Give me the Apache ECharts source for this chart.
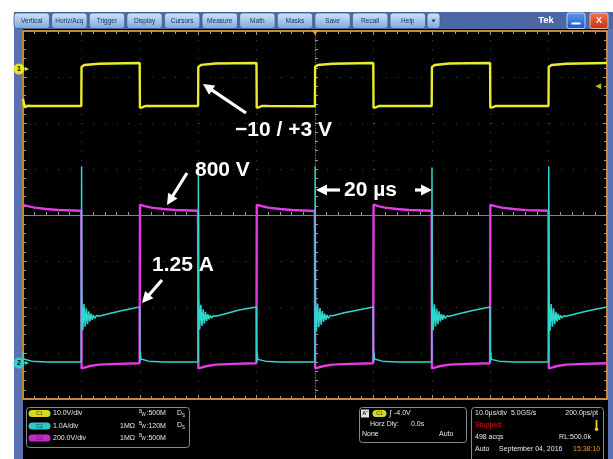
<!DOCTYPE html>
<html>
<head>
<meta charset="utf-8">
<script src="https://cdn.jsdelivr.net/npm/echarts@6/dist/echarts.min.js"></script>
<style>
html, body { margin: 0; padding: 0; background: #ffffff; }
#scope { width: 613px; height: 459px; }
</style>
</head>
<body>
<div id="scope"></div>
<script>
// ---- Captured waveforms (time in µs, 10 µs/div, 100 µs record) ----

// C1: gate drive, volts
const ch1T = [0, 0.3, 0.8, 1.5, 9.98,
  10.02, 10.5, 13, 19.98,
  20.02, 20.4, 21, 22, 29.98,
  30.02, 30.5, 33, 39.98,
  40.02, 40.4, 41, 42, 49.98,
  50.02, 50.5, 53, 59.98,
  60.02, 60.4, 61, 62, 69.98,
  70.02, 70.5, 73, 79.98,
  80.02, 80.4, 81, 82, 89.98,
  90.02, 90.5, 93, 100];
const ch1V = [-7.8, -10.4, -9.9, -10, -10,
  1.8, 2.4, 2.8, 3.0,
  -10.5, -10.4, -9.95, -10, -10,
  1.8, 2.45, 2.85, 3.0,
  -10.5, -10.35, -9.95, -10, -10.05,
  1.85, 2.4, 2.8, 3.0,
  -10.5, -10.4, -9.95, -10, -10,
  1.8, 2.4, 2.85, 3.0,
  -10.45, -10.4, -9.95, -10, -10,
  1.8, 2.4, 2.8, 3.0];

// C2: drain current, amps
const ch2T = [0, 0.1, 1.5, 4, 9.98,
  10.03, 10.08, 10.25, 10.45, 10.65, 10.85, 11.05, 11.25, 11.45, 11.65, 11.85, 12.05, 12.3, 12.6, 13, 15, 17, 19.97,
  20.02, 20.06, 20.2, 21.5, 24, 29.98,
  30.03, 30.08, 30.25, 30.45, 30.65, 30.85, 31.05, 31.25, 31.45, 31.65, 31.85, 32.05, 32.3, 32.6, 33, 35, 37, 39.97,
  40.02, 40.06, 40.2, 41.5, 44, 49.98,
  50.03, 50.08, 50.25, 50.45, 50.65, 50.85, 51.05, 51.25, 51.45, 51.65, 51.85, 52.05, 52.3, 52.6, 53, 55, 57, 59.97,
  60.02, 60.06, 60.2, 61.5, 64, 69.98,
  70.03, 70.08, 70.25, 70.45, 70.65, 70.85, 71.05, 71.25, 71.45, 71.65, 71.85, 72.05, 72.3, 72.6, 73, 75, 77, 79.97,
  80.02, 80.06, 80.2, 81.5, 84, 89.98,
  90.03, 90.08, 90.25, 90.45, 90.65, 90.85, 91.05, 91.25, 91.45, 91.65, 91.85, 92.05, 92.3, 92.6, 93, 95, 97, 100];
const ch2A = [0.25, 0.07, 0.02, 0, 0,
  4.45, 1.45, 0.72, 1.32, 0.80, 1.22, 0.86, 1.15, 0.92, 1.10, 0.96, 1.07, 0.99, 1.06, 1.04, 1.11, 1.17, 1.25,
  0, 0.24, 0.07, 0.02, 0, 0,
  4.40, 1.48, 0.74, 1.30, 0.82, 1.20, 0.87, 1.14, 0.93, 1.09, 0.97, 1.06, 1.00, 1.05, 1.04, 1.11, 1.18, 1.25,
  0, 0.23, 0.06, 0.02, 0, 0,
  4.45, 1.46, 0.70, 1.33, 0.79, 1.23, 0.85, 1.16, 0.91, 1.10, 0.95, 1.07, 0.99, 1.06, 1.05, 1.12, 1.17, 1.25,
  0, 0.25, 0.07, 0.02, 0, 0,
  4.42, 1.44, 0.73, 1.31, 0.81, 1.21, 0.86, 1.15, 0.92, 1.09, 0.96, 1.07, 0.99, 1.05, 1.04, 1.11, 1.17, 1.25,
  0, 0.24, 0.06, 0.02, 0, 0,
  4.45, 1.47, 0.71, 1.32, 0.80, 1.22, 0.86, 1.14, 0.92, 1.10, 0.96, 1.06, 1.00, 1.05, 1.04, 1.11, 1.17, 1.25];

// C3: drain voltage, volts
const ch3T = [0, 1, 2, 4, 6, 9.97,
  10.03, 10.5, 11.5, 13, 16, 19.97,
  20.03, 21, 22, 24, 26, 29.97,
  30.03, 30.5, 31.5, 33, 36, 39.97,
  40.03, 41, 42, 44, 46, 49.97,
  50.03, 50.5, 51.5, 53, 56, 59.97,
  60.03, 61, 62, 64, 66, 69.97,
  70.03, 70.5, 71.5, 73, 76, 79.97,
  80.03, 81, 82, 84, 86, 89.97,
  90.03, 90.5, 91.5, 93, 96, 100];
const ch3V = [816, 808, 802, 795, 790, 786,
  -12, -8, 0, 7, 11, 14,
  817, 808, 802, 795, 790, 786,
  -12, -8, 0, 7, 11, 14,
  816, 809, 802, 795, 790, 785,
  -12, -8, 0, 7, 11, 14,
  817, 808, 802, 795, 790, 786,
  -12, -8, 0, 7, 11, 14,
  816, 808, 802, 795, 789, 786,
  -12, -8, 0, 7, 11, 14];

// Trigger level on C1
const triggerLevel = -4.0;

// Channel readouts
const chLabels = ['C1', 'C2', 'C3'];
const chScales = ['10.0V/div', '1.0A/div', '200.0V/div'];
const chTerm = ['', '1M\u03A9', '1M\u03A9'];
const chBw = ['500M', '120M', '500M'];
const menuItems = ['Vertical', 'Horiz/Acq', 'Trigger', 'Display', 'Cursors', 'Measure', 'Math', 'Masks', 'Save', 'Recall', 'Help'];

const zip = (t, v) => t.map((x, i) => [x, v[i]]);

const YEL = '#ecec2c', CYN = '#2fd6cc', MAG = '#e23ce2';
const BORDER = '#c4873a', TICK = '#9a9a9a', DOTS = '#4e4e4e';
const FONT = '"Liberation Sans", Arial, sans-serif';

const chart = echarts.init(document.getElementById('scope'), null, { renderer: 'canvas', width: 613, height: 459 });

// ---------- screen furniture ----------
const g = [];
g.push({ type: 'rect', shape: { x: 14, y: 12, width: 599, height: 447 }, style: { fill: '#5a72b4' }, z: -20, silent: true });
g.push({ type: 'rect', shape: { x: 23, y: 29, width: 585, height: 430 }, style: { fill: '#000' }, z: -19, silent: true });
g.push({ type: 'rect', shape: { x: 14, y: 12, width: 599, height: 17 }, style: { fill: '#4d67a4' }, z: -18, silent: true });

const btnGrad = { type: 'linear', x: 0, y: 0, x2: 0, y2: 1, colorStops: [{ offset: 0, color: '#d2e4f8' }, { offset: 1, color: '#7ea6d8' }] };
menuItems.forEach((m, i) => {
  const x = 14 + i * 37.6;
  g.push({ type: 'rect', shape: { x: x, y: 13, width: 35.5, height: 15.5, r: 3 }, style: { fill: btnGrad, stroke: '#3d5b93', lineWidth: 0.8 }, z: 1 });
  g.push({ type: 'text', x: x + 17.75, y: 20.8, style: { text: m, fill: '#1c3468', font: '6.5px ' + FONT, align: 'center', verticalAlign: 'middle' }, z: 2 });
});
g.push({ type: 'rect', shape: { x: 427, y: 13, width: 13, height: 15.5, r: 3 }, style: { fill: btnGrad, stroke: '#3d5b93', lineWidth: 0.8 }, z: 1 });
g.push({ type: 'polygon', shape: { points: [[431.5, 19.5], [435.5, 19.5], [433.5, 22.5]] }, style: { fill: '#1c3468' }, z: 2 });
g.push({ type: 'text', x: 546, y: 20.5, style: { text: 'Tek', fill: '#ffffff', font: 'bold 9.5px ' + FONT, align: 'center', verticalAlign: 'middle' }, z: 2 });
g.push({ type: 'rect', shape: { x: 567, y: 13, width: 18, height: 15.5, r: 2 }, style: { fill: { type: 'linear', x: 0, y: 0, x2: 0, y2: 1, colorStops: [{ offset: 0, color: '#5a9af0' }, { offset: 1, color: '#1f56c0' }] }, stroke: '#dfe8f8', lineWidth: 0.8 }, z: 1 });
g.push({ type: 'rect', shape: { x: 571.5, y: 22.5, width: 9, height: 2 }, style: { fill: '#ffffff' }, z: 2 });
g.push({ type: 'rect', shape: { x: 590, y: 13, width: 18, height: 15.5, r: 2 }, style: { fill: { type: 'linear', x: 0, y: 0, x2: 0, y2: 1, colorStops: [{ offset: 0, color: '#f4784a' }, { offset: 1, color: '#c82a12' }] }, stroke: '#f0d8d0', lineWidth: 0.8 }, z: 1 });
g.push({ type: 'text', x: 599, y: 21, style: { text: 'X', fill: '#ffffff', font: 'bold 9px ' + FONT, align: 'center', verticalAlign: 'middle' }, z: 2 });

// trigger position marker at top of graticule
g.push({ type: 'polygon', shape: { points: [[311.5, 30], [318.5, 30], [315, 35]] }, style: { fill: '#e8a030' }, z: 10 });

// channel ground markers
function chMarker(y, color, label) {
  g.push({ type: 'circle', shape: { cx: 19, cy: y, r: 5.5 }, style: { fill: color }, z: 10 });
  g.push({ type: 'text', x: 19, y: y + 0.5, style: { text: label, fill: '#000', font: 'bold 7px ' + FONT, align: 'center', verticalAlign: 'middle' }, z: 11 });
  g.push({ type: 'polygon', shape: { points: [[25, y - 2], [29, y], [25, y + 2]] }, style: { fill: color }, z: 10 });
}
chMarker(69, '#e6e61e', '1');
chMarker(363, '#34cfc8', '2');

// ---------- readout panel ----------
function txt(x, y, s, color, size, align, weight) {
  g.push({ type: 'text', x: x, y: y, style: { text: s, fill: color || '#e8e8e8', font: (weight || 'normal') + ' ' + (size || 7) + 'px ' + FONT, align: align || 'left', verticalAlign: 'middle' }, z: 5 });
}
function pill(x, y, color, label, w) {
  g.push({ type: 'rect', shape: { x: x, y: y - 3.5, width: w || 22, height: 7, r: 3.5 }, style: { fill: color }, z: 5 });
  txt(x + (w || 22) / 2, y + 0.2, label, '#303030', 5, 'center');
}
function bw(x, y, val) {
  txt(x, y - 2, 'B', '#e8e8e8', 4.5);
  txt(x + 2.5, y + 1.2, 'W', '#e8e8e8', 4.5);
  txt(x + 7.5, y, ':' + val, '#e8e8e8', 7);
}
function ds(x, y) {
  txt(x, y - 0.5, 'D', '#e8e8e8', 7);
  txt(x + 5, y + 2, 'S', '#e8e8e8', 4.5);
}
const box = (x, y, w, h) => g.push({ type: 'rect', shape: { x: x, y: y, width: w, height: h, r: 3 }, style: { fill: 'none', stroke: '#8a8a8a', lineWidth: 1 }, z: 4 });

box(26.5, 407.5, 163, 40);
const rowY = [413.5, 426, 438];
const pillCol = ['#d8d820', '#28c8c8', '#c828c8'];
chLabels.forEach((c, i) => {
  pill(28.5, rowY[i], pillCol[i], c);
  txt(53, rowY[i], chScales[i]);
  if (chTerm[i]) txt(120, rowY[i], chTerm[i]);
  bw(139, rowY[i], chBw[i]);
  if (i < 2) ds(177, rowY[i]);
});

box(359.5, 407.5, 107, 35);
g.push({ type: 'rect', shape: { x: 361, y: 409.5, width: 8, height: 8 }, style: { fill: '#e0e0e0' }, z: 5 });
txt(365, 413.8, "A'", '#202020', 5.5, 'center', 'bold');
pill(372.5, 413.5, '#d8d820', 'C1', 14);
txt(389, 413.5, '\u222B', '#e8e8e8', 8);
txt(394, 413.5, '-4.0V');
txt(370, 424, 'Horz Dly:');
txt(411, 424, '0.0s');
txt(362, 434.5, 'None');
txt(439, 434.5, 'Auto');

box(471.5, 407.5, 132, 60);
txt(475, 413.5, '10.0\u00B5s/div  5.0GS/s');
txt(598, 413.5, '200.0ps/pt', '#e8e8e8', 7, 'right');
txt(475, 425, 'Stopped', '#e01818', 7);
g.push({ type: 'rect', shape: { x: 595.6, y: 420, width: 1.8, height: 8 }, style: { fill: '#f0d020' }, z: 5 });
g.push({ type: 'circle', shape: { cx: 596.5, cy: 429.3, r: 1.7 }, style: { fill: '#f0d020' }, z: 5 });
txt(475, 437.5, '498 acqs');
txt(591, 437.5, 'RL:500.0k', '#e8e8e8', 7, 'right');
txt(475, 449.5, 'Auto');
txt(499, 449.5, 'September 04, 2016');
txt(573, 449.5, '15:38:10', '#e89a28');

// ---------- annotations ----------
function arrow(x1, y1, x2, y2) {
  const dx = x2 - x1, dy = y2 - y1, len = Math.hypot(dx, dy);
  const ux = dx / len, uy = dy / len, hl = 11, hw = 5.5;
  const bx = x2 - ux * hl, by = y2 - uy * hl;
  g.push({ type: 'line', shape: { x1: x1, y1: y1, x2: bx + ux, y2: by + uy }, style: { stroke: '#ffffff', lineWidth: 3.2 }, z: 100 });
  g.push({ type: 'polygon', shape: { points: [[x2, y2], [bx - uy * hw, by + ux * hw], [bx + uy * hw, by - ux * hw]] }, style: { fill: '#ffffff' }, z: 100 });
}
function note(x, y, s) {
  g.push({ type: 'text', x: x, y: y, style: { text: s, fill: '#ffffff', font: 'bold 21px ' + FONT, align: 'left', verticalAlign: 'middle' }, z: 100 });
}
note(235, 130, '\u221210 / +3 V');
arrow(246, 113, 203, 84);
note(195, 170, '800 V');
arrow(187, 173, 167, 205);
note(152, 265, '1.25 A');
arrow(162, 280, 142, 303);
note(344, 190, '20 \u00B5s');
arrow(340, 190, 316, 190);
arrow(415, 190, 432, 190);

// ---------- graticule axes ----------
const edgeX = (pos, split) => ({
  type: 'value', gridIndex: 0, min: 0, max: 100, interval: 10, position: pos,
  axisLine: { show: true, onZero: false, lineStyle: { color: BORDER, width: 2 } },
  axisTick: { show: true, inside: true, length: 4, lineStyle: { color: TICK } },
  minorTick: { show: true, splitNumber: 5, length: 3, lineStyle: { color: TICK } },
  axisLabel: { show: false },
  splitLine: { show: split, lineStyle: { color: DOTS, type: [1, 8.2], width: 1 } }
});
const edgeY = (pos, split) => ({
  type: 'value', gridIndex: 0, min: -4, max: 4, interval: 1, position: pos,
  axisLine: { show: true, onZero: false, lineStyle: { color: BORDER, width: 2 } },
  axisTick: { show: true, inside: true, length: 4, lineStyle: { color: TICK } },
  minorTick: { show: true, splitNumber: 5, length: 3, lineStyle: { color: TICK } },
  axisLabel: { show: false },
  splitLine: { show: split, lineStyle: { color: DOTS, type: [1, 10.7], width: 1 } }
});
const hidden = (min, max) => ({ type: 'value', gridIndex: 0, min: min, max: max, show: false, splitLine: { show: false } });

const option = {
  backgroundColor: '#ffffff',
  animation: false,
  textStyle: { fontFamily: FONT },
  grid: { left: 23, top: 31, width: 584, height: 368, show: false, containLabel: false, outerBoundsMode: 'none' },
  xAxis: [
    edgeX('bottom', true),                // 0: time base, µs
    edgeX('top', false),                  // 1: top edge
    Object.assign(edgeX('bottom', false), { // 2: horizontal centre line
      axisLine: { show: true, onZero: true, onZeroAxisIndex: 0, lineStyle: { color: '#8c8270', width: 1 } },
      axisTick: { show: true, inside: true, length: 3, lineStyle: { color: TICK } }
    }),
    hidden(-50, 50)                       // 3: reference for the vertical centre line
  ],
  yAxis: [
    edgeY('left', true),                  // 0: divisions
    edgeY('right', false),                // 1: right edge
    Object.assign(edgeY('left', false), { // 2: vertical centre line
      axisLine: { show: true, onZero: true, onZeroAxisIndex: 3, lineStyle: { color: '#707070', width: 1, type: [1, 2] } },
      axisTick: { show: true, inside: true, length: 3, lineStyle: { color: TICK } }
    }),
    hidden(-98.6, 12.7),                  // 3: C1 volts
    hidden(-0.84, 7.52),                  // 4: C2 amps
    hidden(-167, 1696)                    // 5: C3 volts
  ],
  series: [
    {
      name: 'C1', type: 'line', xAxisIndex: 0, yAxisIndex: 3, data: zip(ch1T, ch1V),
      showSymbol: false, lineStyle: { color: YEL, width: 2.4 }, z: 3
    },
    {
      name: 'C3', type: 'line', xAxisIndex: 0, yAxisIndex: 5, data: zip(ch3T, ch3V),
      showSymbol: false, lineStyle: { color: MAG, width: 2.4 }, z: 3
    },
    {
      name: 'C2', type: 'line', xAxisIndex: 0, yAxisIndex: 4, data: zip(ch2T, ch2A),
      showSymbol: false, lineStyle: { color: CYN, width: 1.5 }, z: 4
    },
    {
      name: 'Trigger level', type: 'scatter', xAxisIndex: 0, yAxisIndex: 3,
      data: [[98.5, triggerLevel]], symbol: 'triangle', symbolRotate: 90, symbolSize: [6, 6],
      itemStyle: { color: '#e6e61e' }, z: 5
    }
  ],
  graphic: { elements: g }
};
chart.setOption(option);
</script>
</body>
</html>
